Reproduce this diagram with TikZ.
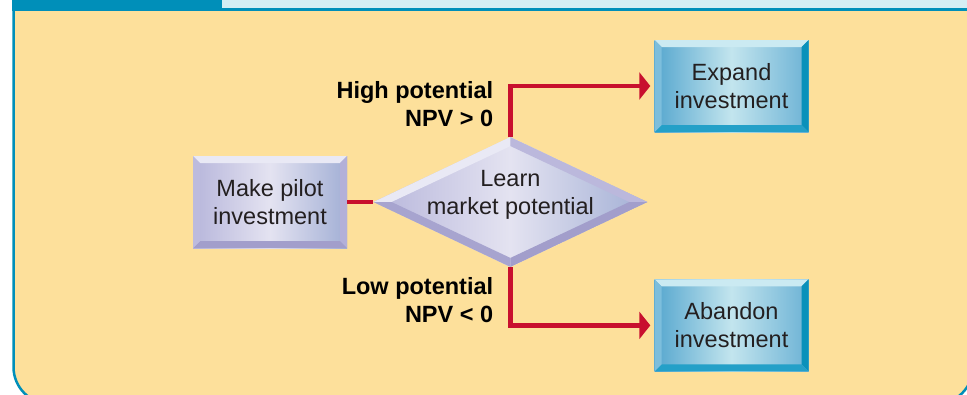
\documentclass[tikz,border=0pt]{standalone}
\usepackage{fontspec}
\setmainfont{Liberation Sans}
\usetikzlibrary{arrows.meta,positioning,shapes.geometric}

\definecolor{panelyellow}{HTML}{FDE09B}
\definecolor{bandteal}{HTML}{008FB9}
\definecolor{bandlight}{HTML}{D4EEF4}
\definecolor{flowred}{HTML}{C8102E}
\definecolor{txtgray}{HTML}{231F20}
% lavender slab
\definecolor{lavL}{HTML}{B7B6DB}
\definecolor{lavM}{HTML}{E4E3F1}
\definecolor{lavR}{HTML}{A2AFD5}
\definecolor{lavbT}{HTML}{E9E9F5}
\definecolor{lavbR}{HTML}{B3B0D8}
\definecolor{lavbB}{HTML}{A29ECB}
\definecolor{lavbL}{HTML}{BDBBDD}
% blue slab
\definecolor{bluL}{HTML}{55A6CE}
\definecolor{bluM}{HTML}{C3E5EE}
\definecolor{bluR}{HTML}{6CB2D5}
\definecolor{blubT}{HTML}{CBEAF2}
\definecolor{blubR}{HTML}{0A91BA}
\definecolor{blubB}{HTML}{24A0C8}
\definecolor{blubL}{HTML}{7DBEDC}

\begin{document}
\begin{tikzpicture}[x=1pt, y=-1pt,
 font=\fontsize{23.5}{28}\selectfont,
 >={Triangle[length=11pt,width=27pt]},
 slab/.style={rectangle, inner sep=0pt, align=center, text=txtgray,
 minimum width=154pt, minimum height=92pt},
 lavface/.style={left color=lavL, right color=lavR, middle color=lavM},
 bluface/.style={left color=bluL, right color=bluR, middle color=bluM},
 bevel/.style n args={4}{path picture={
 \fill[#1] (path picture bounding box.north west) -- (path picture bounding box.north east)
 -- ([shift={(-7pt,-7pt)}]path picture bounding box.north east) -- ([shift={(7pt,-7pt)}]path picture bounding box.north west) -- cycle;
 \fill[#2] (path picture bounding box.north east) -- (path picture bounding box.south east)
 -- ([shift={(-7pt,7pt)}]path picture bounding box.south east) -- ([shift={(-7pt,-7pt)}]path picture bounding box.north east) -- cycle;
 \fill[#3] (path picture bounding box.south east) -- (path picture bounding box.south west)
 -- ([shift={(7pt,7pt)}]path picture bounding box.south west) -- ([shift={(-7pt,7pt)}]path picture bounding box.south east) -- cycle;
 \fill[#4] (path picture bounding box.south west) -- (path picture bounding box.north west)
 -- ([shift={(7pt,-7pt)}]path picture bounding box.north west) -- ([shift={(7pt,7pt)}]path picture bounding box.south west) -- cycle;
 }},
 dmd/.style={diamond, inner sep=0pt, minimum width=274pt, minimum height=130pt,
 lavface, path picture={
 \fill[lavbT] (path picture bounding box.west) -- (path picture bounding box.north)
 -- ([yshift=-9pt]path picture bounding box.north) -- ([xshift=18pt]path picture bounding box.west) -- cycle;
 \fill[lavbR!90!white] (path picture bounding box.north) -- (path picture bounding box.east)
 -- ([xshift=-18pt]path picture bounding box.east) -- ([yshift=-9pt]path picture bounding box.north) -- cycle;
 \fill[lavbB] (path picture bounding box.east) -- (path picture bounding box.south)
 -- ([yshift=9pt]path picture bounding box.south) -- ([xshift=-18pt]path picture bounding box.east) -- cycle;
 \fill[lavbB!80!lavbL] (path picture bounding box.south) -- (path picture bounding box.west)
 -- ([xshift=18pt]path picture bounding box.west) -- ([yshift=9pt]path picture bounding box.south) -- cycle;
 }},
 flow/.style={draw=flowred, line width=4.5pt},
 cond/.style={font=\fontsize{23.5}{28}\selectfont\bfseries, align=right, inner sep=0pt, text=black},
]
\useasboundingbox (0,0) rectangle (967,394);
% panel and header band
\draw[bandteal, line width=2.5pt, fill=panelyellow, rounded corners=37pt] (13.5,-40) rectangle (973,404);
\fill[bandlight] (222,0) rectangle (967,7.5);
\fill[bandteal] (222,7.5) rectangle (967,10.5);
\fill[bandteal] (12,0) rectangle (222,10.5);

\node[slab, lavface, bevel={lavbT}{lavbR}{lavbB}{lavbL}] (pilot) at (270,202) {Make pilot\\investment};
\node[dmd, right=26pt of pilot] (learn) {};
\node[inner sep=0pt, align=center, text=txtgray, yshift=7pt] (learntxt) at (learn) {Learn\\market potential};
\node[slab, bluface, bevel={blubT}{blubR}{blubB}{blubL}] (expand) at (731.5,86) {Expand\\investment};
\node[slab, bluface, bevel={blubT}{blubR}{blubB}{blubL}, below=147pt of expand] (abandon) {Abandon\\investment};

\draw[flow] (pilot) -- (learn);
\draw[flow, ->, shorten >=4pt] (learn.north) |- (expand.west);
\draw[flow, ->, shorten >=4pt] (learn.south) |- (abandon.west);

\node[cond, above left=10pt and 17pt of learn.north] (hilbl) {High potential\\NPV > 0};
\node[cond, below left=10pt and 17pt of learn.south] (lolbl) {Low potential\\NPV < 0};
\end{tikzpicture}
\end{document}
